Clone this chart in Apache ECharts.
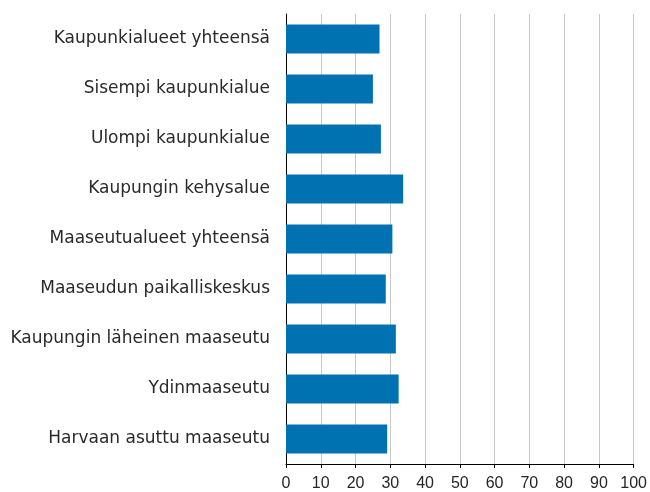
<!DOCTYPE html>
<html><head><meta charset="utf-8">
<script src="https://cdn.jsdelivr.net/npm/echarts@6/dist/echarts.min.js"></script>
<style>html,body{margin:0;padding:0;background:#fff}#c{width:650px;height:492px}</style>
</head><body><div id="c"></div>
<script>
const categories = [
  "Kaupunkialueet yhteensä",
  "Sisempi kaupunkialue",
  "Ulompi kaupunkialue",
  "Kaupungin kehysalue",
  "Maaseutualueet yhteensä",
  "Maaseudun paikalliskeskus",
  "Kaupungin läheinen maaseutu",
  "Ydinmaaseutu",
  "Harvaan asuttu maaseutu"
];
const values = [26.9, 25.0, 27.3, 33.7, 30.6, 28.7, 31.6, 32.4, 29.1];
const xTicks = [0, 10, 20, 30, 40, 50, 60, 70, 80, 90, 100];

const chart = echarts.init(document.getElementById('c'), null, {renderer: 'canvas'});
chart.setOption({
  animation: false,
  grid: {left: 286, right: 15, top: 14, bottom: 28, containLabel: false},
  xAxis: {
    type: 'value',
    min: xTicks[0], max: xTicks[xTicks.length - 1], interval: 10,
    axisLine: {show: true, lineStyle: {color: '#000', width: 1}},
    axisTick: {show: true, length: 4, lineStyle: {color: '#000'}},
    splitLine: {show: true, lineStyle: {color: '#c8c8c8', width: 1}},
    axisLabel: {color: '#262626', fontSize: 16, fontFamily: 'Liberation Sans, Arial', margin: 12}
  },
  yAxis: {
    type: 'category',
    data: categories,
    inverse: true,
    axisLine: {show: true, lineStyle: {color: '#000', width: 1}},
    axisTick: {show: false},
    axisLabel: {color: '#2a2a2a', fontSize: 17, fontFamily: 'DejaVu Sans', margin: 16}
  },
  series: [{
    type: 'bar',
    data: values,
    barWidth: '58%',
    itemStyle: {color: '#0072B2'}
  }]
});
</script></body></html>
